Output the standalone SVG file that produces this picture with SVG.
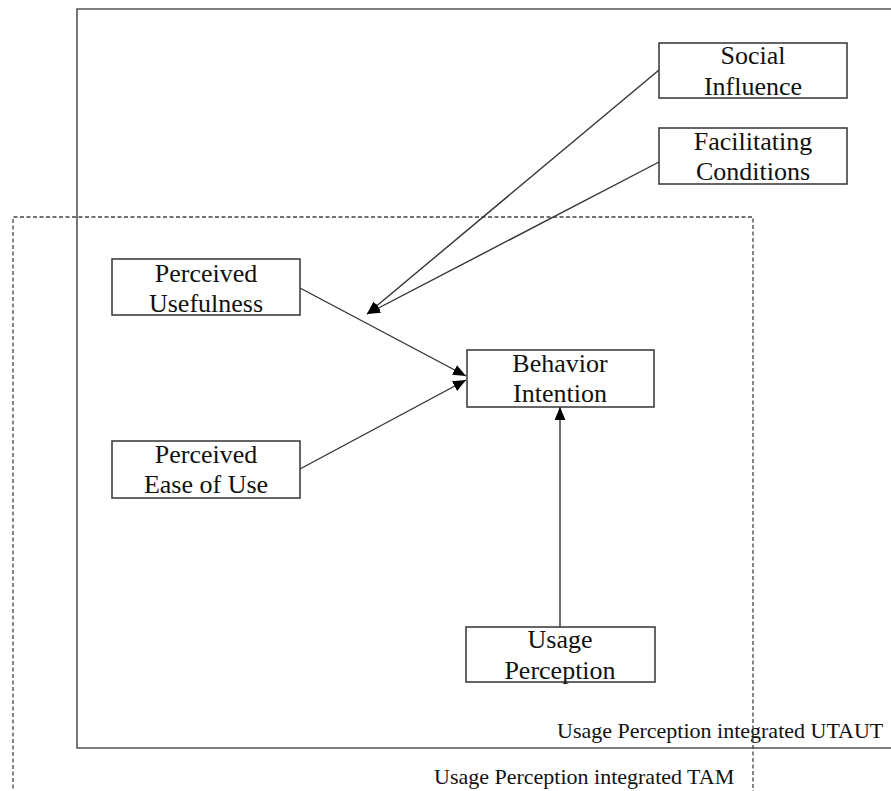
<svg xmlns="http://www.w3.org/2000/svg" width="891" height="791" viewBox="0 0 891 791">
<defs>
<style>
.box{fill:#fff;stroke:#333;stroke-width:1.5}
.t{font-family:"Liberation Serif","Times New Roman",serif;font-size:26px;fill:#111;text-anchor:middle}
.lbl{font-family:"Liberation Serif","Times New Roman",serif;font-size:22px;fill:#111}
.conn{stroke:#333;stroke-width:1.4;fill:none;marker-end:url(#arr)}
</style>
<marker id="arr" viewBox="0 0 12 10" refX="12" refY="5" markerWidth="13" markerHeight="11" markerUnits="userSpaceOnUse" orient="auto">
<path d="M0,0 L12,5 L0,10 z" fill="#000"/>
</marker>
</defs>
<rect width="891" height="791" fill="#fff"/>
<g id="utaut-frame">
<path d="M891,9 H77 V748 H891" fill="none" stroke="#555" stroke-width="1.6"/>
<text class="lbl" x="557" y="738">Usage Perception integrated UTAUT</text>
</g>
<g id="tam-frame">
<path d="M13,795 V217 H753 V795" fill="none" stroke="#444" stroke-width="1.3" stroke-dasharray="4 2.5"/>
<text class="lbl" x="434" y="784">Usage Perception integrated TAM</text>
</g>
<g id="connectors">
<line class="conn" x1="659" y1="70" x2="367" y2="314"/>
<line class="conn" x1="659" y1="162" x2="367" y2="314"/>
<line class="conn" x1="300" y1="288" x2="466" y2="376"/>
<line class="conn" x1="300" y1="469" x2="466" y2="380"/>
<line class="conn" x1="560" y1="627" x2="560" y2="407"/>
</g>
<g id="social-influence">
<rect class="box" x="659" y="43" width="188" height="55"/>
<text class="t" x="753" y="64">Social</text>
<text class="t" x="753" y="95">Influence</text>
</g>
<g id="facilitating-conditions">
<rect class="box" x="659" y="128" width="188" height="56"/>
<text class="t" x="753" y="150">Facilitating</text>
<text class="t" x="753" y="180">Conditions</text>
</g>
<g id="perceived-usefulness">
<rect class="box" x="112" y="259" width="188" height="56"/>
<text class="t" x="206" y="282">Perceived</text>
<text class="t" x="206" y="312">Usefulness</text>
</g>
<g id="perceived-ease-of-use">
<rect class="box" x="112" y="441" width="188" height="57"/>
<text class="t" x="206" y="463">Perceived</text>
<text class="t" x="206" y="493">Ease of Use</text>
</g>
<g id="behavior-intention">
<rect class="box" x="467" y="350" width="187" height="57"/>
<text class="t" x="560" y="372">Behavior</text>
<text class="t" x="560" y="402">Intention</text>
</g>
<g id="usage-perception">
<rect class="box" x="466" y="627" width="189" height="55"/>
<text class="t" x="560" y="648">Usage</text>
<text class="t" x="560" y="679">Perception</text>
</g>
</svg>
